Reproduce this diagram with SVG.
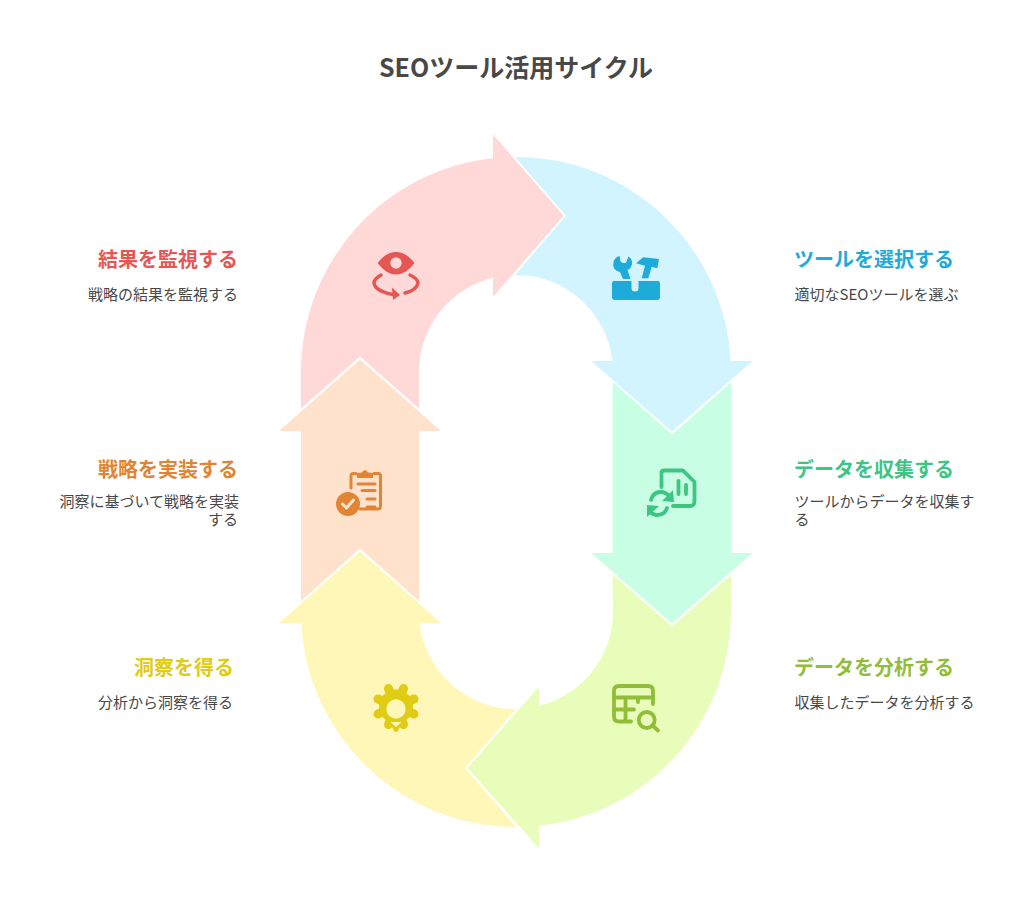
<svg xmlns="http://www.w3.org/2000/svg" width="1032" height="913" viewBox="0 0 1032 913">
<style>
text{font-family:"Noto Sans CJK JP","Noto Sans",sans-serif}
.t{font-size:25px;font-weight:700;fill:#484848;text-anchor:middle}
.h{font-size:20px;font-weight:700}
.d{font-size:15px;fill:#484848}
.e{text-anchor:end}
.l{fill:none;stroke-linecap:round;stroke-linejoin:round}
</style>
<rect width="1032" height="913" fill="#fff"/>
<text class="t" x="516" y="77">SEOツール活用サイクル</text>
<g id="connectors"></g>
<g id="node-select">
<path fill="#D1F4FF" d="M515,157 L516,157 A215,215 0 0 1 730.700,361 L752.500,361 L672,431.500 L591,361 L612.400,361 A97,97 0 0 0 516,275 L515,275 L566,215.700 Z"/>
<g fill="#1EABDA">
<path fill-rule="evenodd" d="M614,281 L658,281 Q660,281 660,283 L660,297 Q660,300 657,300 L615,300 Q612,300 612,297 L612,283 Q612,281 614,281 Z M631.500,281 L631.500,288 Q631.500,291.500 635,291.500 Q638.500,291.500 638.500,288 L638.500,281 Z"/>
<path d="M619.500,256 L620.500,261.500 Q623,264 626,262.500 L628.500,256.500 Q634,260 631,267 Q630,269 627.500,270 L630.500,279 L623,279 L620,272 Q612,270 613.500,262 Q615,257 619.500,256 Z"/>
<path d="M636,263.300 L643.300,257.300 L659,259 L657.300,268.300 L651.700,266.700 L648.300,278.300 L641.700,278.300 L645,265.700 Z"/>
</g>
</g>
<g id="node-collect">
<path fill="#C8FFE4" d="M612.500,382 L672,434.500 L731.500,382 L731.500,553 L752.500,553 L672,623.500 L591,553 L612.500,553 Z"/>
<g class="l" stroke="#3CC583" stroke-width="3.800">
<path d="M661.500,487 L661.500,473 Q661.500,470.500 664,470.500 L683,470.500 L694.500,482 L694.500,501 Q694.500,506 690,506 L673,506"/>
<path d="M678.500,481 L678.500,494 M686,485 L686,494"/>
<path d="M651,500 Q653,492 661,492 Q666,492 670,497"/>
<path d="M667,508 Q665,515 657,515 Q652,515 649,510"/>
</g>
<path fill="#3CC583" d="M673,490 L674,502 L662,501 Z M647,517 L647,505 L659,506 Z"/>
</g>
<g id="node-analyze">
<path fill="#E8FDB9" d="M612.500,574.500 L672,626.500 L731.500,574.500 L731,612 A215,215 0 0 1 539,825.800 L539,848.500 L467.500,768 L539,686.500 L539,706 A97,97 0 0 0 613,612 Z"/>
<g class="l" stroke="#92BD39" stroke-width="3.800">
<path d="M631,721.500 L619,721.500 Q614,721.500 614,716.500 L614,691 Q614,686 619,686 L648,686 Q653,686 653,691 L653,704"/>
<path d="M614,697.500 L653,697.500 M638,698 L638,702 M614,709.500 L634,709.500 M625.500,698 L625.500,721"/>
<circle cx="646.700" cy="720" r="8"/>
<path d="M652.500,725.500 L658,730.500"/>
</g>
</g>
<g id="node-insight">
<path fill="#FFF7B8" d="M516,827 A215,215 0 0 1 301.300,623 L279,623 L360,551.500 L441,623 L419.600,623 A97,97 0 0 0 516,709 L465,768 Z"/>
<g stroke="#E0CB15" stroke-width="9" stroke-linecap="round">
<path d="M378,699 L414,714 M388.500,688.500 L403.500,724.500 M403.500,688.500 L388.500,724.500 M414,699 L378,714"/>
</g>
<circle cx="396" cy="706.500" r="17" fill="#E0CB15"/>
<path fill="#E0CB15" d="M391,725 L401,725 L398,731 Q396,733 394,731 Z"/>
<circle cx="396" cy="709" r="9.700" fill="#FFF7B8"/>
<path fill="#FFF7B8" d="M390.500,722 L401.500,722 L396,727 Z"/>
</g>
<g id="node-implement">
<path fill="#FFE2CB" d="M301,601 L360,548.500 L419,601 L419,431 L441,431 L360,359.500 L279,431 L301,431 Z"/>
<g class="l" stroke="#E18434" stroke-width="3">
<path d="M351,488 L351,476 Q351,473.500 353.500,473.500 L356,473.500 M374,473.500 L378,473.500 Q380.500,473.500 380.500,476 L380.500,506 Q380.500,509 378,509 L360,509"/>
<path d="M358,484 L375,484 M362,490.500 L375,490.500 M367,499 L375,499 M367,507 L375,507"/>
</g>
<path fill="#E18434" d="M357,478 L357,473 L362,472.500 Q365,467.500 368,472.500 L373,473 L373,478 Z"/>
<circle cx="348" cy="504" r="12" fill="#E18434"/>
<path class="l" stroke="#FFE2CB" stroke-width="3" d="M342.500,504 L346.500,508 L353.500,500"/>
</g>
<g id="node-monitor">
<path fill="#FFD8D8" d="M301,408.500 L301,372 A215,215 0 0 1 493,158.200 L493,134.500 L563.500,215.700 L493,297 L493,277.800 A97,97 0 0 0 419,372 L419,408.500 L360,356.500 Z"/>
<path fill="#E55753" fill-rule="evenodd" d="M377.700,263 Q386,252 396,252 Q406,252 414.500,263 Q406,274.500 396,274.500 Q386,274.500 377.700,263 Z M396,257.300 A5.700,5.700 0 1 0 396,268.700 A5.700,5.700 0 1 0 396,257.300 Z"/>
<g class="l" stroke="#E55753" stroke-width="3.500">
<path d="M381,275 Q374,279 374,283 Q375,291 393,294.500"/>
<path d="M410,275 Q418,279 418,283 Q417,290 405,293"/>
</g>
<path fill="#E55753" d="M392,287.500 L400,295 L393,300 Z"/>
</g>
<g id="label-monitor"><text class="h e" x="238" y="267" fill="#E55753">結果を監視する</text><text class="d e" x="238" y="300">戦略の結果を監視する</text></g>
<g id="label-implement"><text class="h e" x="238" y="477" fill="#E18434">戦略を実装する</text><text class="d e"><tspan x="239" y="507">洞察に基づいて戦略を実装</tspan><tspan x="238" y="524.500">する</tspan></text></g>
<g id="label-insight"><text class="h e" x="234" y="675" fill="#E0CB15">洞察を得る</text><text class="d e" x="233" y="708">分析から洞察を得る</text></g>
<g id="label-select"><text class="h" x="794" y="267" fill="#1EABDA">ツールを選択する</text><text class="d" x="794.500" y="300">適切なSEOツールを選ぶ</text></g>
<g id="label-collect"><text class="h" x="794" y="477" fill="#3CC583">データを収集する</text><text class="d"><tspan x="794.500" y="507">ツールからデータを収集す</tspan><tspan x="794.500" y="524.500">る</tspan></text></g>
<g id="label-analyze"><text class="h" x="794" y="675" fill="#92BD39">データを分析する</text><text class="d" x="794.500" y="708">収集したデータを分析する</text></g>
</svg>
